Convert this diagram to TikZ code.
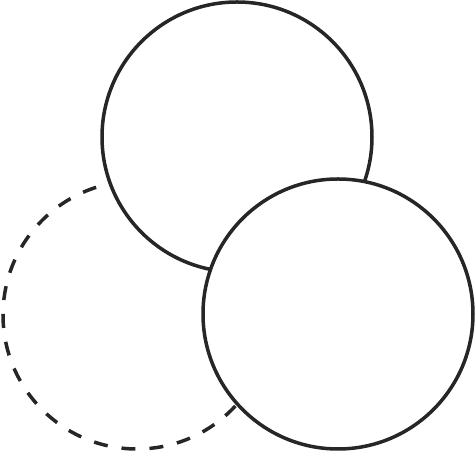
\documentclass[tikz,border=0pt]{standalone}
\begin{document}
\begin{tikzpicture}[x=1pt,y=1pt,
  ring/.style={circle, draw=ink, line width=3.5pt, minimum size=270pt, inner sep=0pt, fill=white},
  ghost/.style={circle, draw=ink, line width=3.5pt, minimum size=268pt, inner sep=0pt, dash pattern=on 14pt off 14pt}]
\definecolor{ink}{HTML}{262626}
\useasboundingbox (0,0) rectangle (475,452);
\node[ghost] (c) at (137,137) {};
\node[ring] (a) at (237,315) {};
\node[ring] (b) at (338,138) {};
\end{tikzpicture}
\end{document}
